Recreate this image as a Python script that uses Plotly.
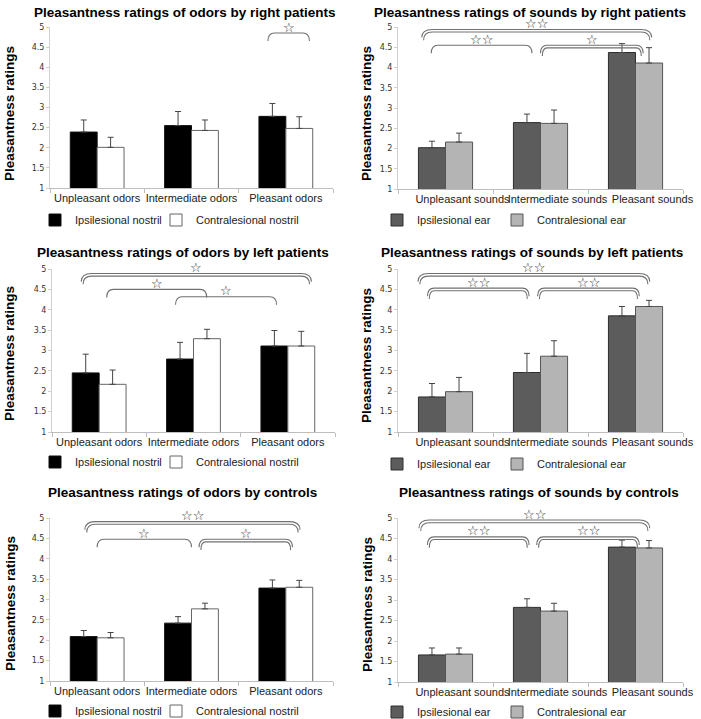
import plotly.graph_objects as go

W, H = 701, 719

# ---------------- data ----------------
odor_categories = ["Unpleasant odors", "Intermediate odors", "Pleasant odors"]
sound_categories = ["Unpleasant sounds", "Intermediate sounds", "Pleasant sounds"]
y_tick_values = [1, 1.5, 2, 2.5, 3, 3.5, 4, 4.5, 5]
y_tick_labels = ["1", "1.5", "2", "2.5", "3", "3.5", "4", "4.5", "5"]

odor_series_names = ["Ipsilesional nostril", "Contralesional nostril"]
sound_series_names = ["Ipsilesional ear", "Contralesional ear"]

odor_right_ipsi = [2.39, 2.55, 2.78]
odor_right_ipsi_err = [0.30, 0.35, 0.32]
odor_right_contra = [2.01, 2.43, 2.48]
odor_right_contra_err = [0.25, 0.26, 0.29]

sound_right_ipsi = [2.02, 2.64, 4.37]
sound_right_ipsi_err = [0.16, 0.21, 0.22]
sound_right_contra = [2.16, 2.62, 4.11]
sound_right_contra_err = [0.22, 0.33, 0.38]

odor_left_ipsi = [2.45, 2.79, 3.11]
odor_left_ipsi_err = [0.46, 0.41, 0.38]
odor_left_contra = [2.17, 3.29, 3.11]
odor_left_contra_err = [0.35, 0.23, 0.36]

sound_left_ipsi = [1.86, 2.46, 3.85]
sound_left_ipsi_err = [0.33, 0.47, 0.23]
sound_left_contra = [1.99, 2.86, 4.08]
sound_left_contra_err = [0.35, 0.38, 0.15]

odor_ctrl_ipsi = [2.09, 2.42, 3.28]
odor_ctrl_ipsi_err = [0.15, 0.16, 0.20]
odor_ctrl_contra = [2.06, 2.77, 3.30]
odor_ctrl_contra_err = [0.13, 0.14, 0.17]

sound_ctrl_ipsi = [1.66, 2.82, 4.29]
sound_ctrl_ipsi_err = [0.17, 0.21, 0.17]
sound_ctrl_contra = [1.68, 2.73, 4.27]
sound_ctrl_contra_err = [0.15, 0.19, 0.18]

# significance brackets: (from category pos, to category pos, level, stars, double line)
sig_odor_right = [(1.81, 2.25, 4.85, "☆", False)]
sig_sound_right = [(-0.25, 2.17, 4.94, "☆☆", True),
                   (-0.15, 0.91, 4.55, "☆☆", False),
                   (1.00, 2.08, 4.55, "☆", True)]
sig_odor_left = [(-0.19, 2.25, 4.89, "☆", True),
                 (0.08, 1.14, 4.50, "☆", False),
                 (0.81, 1.88, 4.32, "☆", False)]
sig_sound_left = [(-0.29, 2.15, 4.89, "☆☆", True),
                  (-0.19, 0.88, 4.53, "☆☆", True),
                  (0.97, 2.04, 4.53, "☆☆", True)]
sig_odor_ctrl = [(-0.13, 2.15, 4.91, "☆☆", True),
                 (0.00, 1.00, 4.48, "☆", False),
                 (1.08, 2.07, 4.48, "☆", True)]
sig_sound_ctrl = [(-0.28, 2.15, 4.95, "☆☆", True),
                  (-0.19, 0.88, 4.54, "☆☆", True),
                  (0.96, 2.04, 4.54, "☆☆", True)]

# ---------------- styling / layout ----------------
FONT = "Liberation Sans, Arial, sans-serif"
odor_style = dict(colors=["#000000", "#ffffff"], lines=["#111111", "#666666"])
sound_style = dict(colors=["#5c5c5c", "#b4b4b4"], lines=["#2e2e2e", "#555555"])

panels = [
    dict(title="Pleasantness ratings of odors by right patients", cats=odor_categories,
         names=odor_series_names, style=odor_style,
         a=odor_right_ipsi, ae=odor_right_ipsi_err, b=odor_right_contra, be=odor_right_contra_err,
         sig=sig_odor_right, box=(50, 333, 27, 188), title_c=(185, 12), ytitle=(10, 114),
         legend=((59, 180), 220), shift=0),
    dict(title="Pleasantness ratings of sounds by right patients", cats=sound_categories,
         names=sound_series_names, style=sound_style,
         a=sound_right_ipsi, ae=sound_right_ipsi_err, b=sound_right_contra, be=sound_right_contra_err,
         sig=sig_sound_right, box=(398, 683, 27, 189), title_c=(530, 12), ytitle=(367, 114),
         legend=((401, 521), 220), shift=17),
    dict(title="Pleasantness ratings of odors by left patients", cats=odor_categories,
         names=odor_series_names, style=odor_style,
         a=odor_left_ipsi, ae=odor_left_ipsi_err, b=odor_left_contra, be=odor_left_contra_err,
         sig=sig_odor_left, box=(52, 335, 269, 432), title_c=(183, 253), ytitle=(10, 354),
         legend=((59, 180), 462), shift=0),
    dict(title="Pleasantness ratings of sounds by left patients", cats=sound_categories,
         names=sound_series_names, style=sound_style,
         a=sound_left_ipsi, ae=sound_left_ipsi_err, b=sound_left_contra, be=sound_left_contra_err,
         sig=sig_sound_left, box=(398, 683, 269, 432), title_c=(532, 253), ytitle=(367, 356),
         legend=((401, 521), 464), shift=17),
    dict(title="Pleasantness ratings of odors by controls", cats=odor_categories,
         names=odor_series_names, style=odor_style,
         a=odor_ctrl_ipsi, ae=odor_ctrl_ipsi_err, b=odor_ctrl_contra, be=odor_ctrl_contra_err,
         sig=sig_odor_ctrl, box=(50, 333, 518, 681), title_c=(182, 492), ytitle=(10, 604),
         legend=((59, 180), 711), shift=0),
    dict(title="Pleasantness ratings of sounds by controls", cats=sound_categories,
         names=sound_series_names, style=sound_style,
         a=sound_ctrl_ipsi, ae=sound_ctrl_ipsi_err, b=sound_ctrl_contra, be=sound_ctrl_contra_err,
         sig=sig_sound_ctrl, box=(398, 683, 518, 682), title_c=(539, 492), ytitle=(367, 605),
         legend=((401, 521), 712), shift=17),
]

fig = go.Figure()
layout = dict(
    width=W, height=H, margin=dict(l=0, r=0, t=0, b=0, autoexpand=False),
    paper_bgcolor="white", plot_bgcolor="white",
    barmode="group", bargap=0.43, bargroupgap=0.0,
    font=dict(family=FONT, size=11, color="#222"),
    showlegend=True,
)
annotations = []
shapes = []
legend_count = 0

for i, p in enumerate(panels):
    n = i + 1
    xa = "x" if n == 1 else f"x{n}"
    ya = "y" if n == 1 else f"y{n}"
    x0, x1, yt, yb = p["box"]
    positions = list(range(len(p["cats"])))
    for k, (vals, errs) in enumerate([(p["a"], p["ae"]), (p["b"], p["be"])]):
        legend_count += 1
        lg = "legend" if legend_count == 1 else f"legend{legend_count}"
        fig.add_trace(go.Bar(
            x=positions, y=vals, name=p["names"][k],
            xaxis=xa, yaxis=ya, legend=lg,
            marker=dict(color=p["style"]["colors"][k],
                        line=dict(color=p["style"]["lines"][k], width=1)),
            error_y=dict(type="data", array=errs, arrayminus=[0] * len(errs), symmetric=False,
                         color="#444", thickness=1, width=3),
            cliponaxis=False,
        ))
        sym_x = p["legend"][0][k]
        ly = p["legend"][1]
        layout[lg] = dict(
            orientation="h", x=(sym_x - 24) / W, xanchor="left",
            y=1 - ly / H, yanchor="middle",
            font=dict(family=FONT, size=11, color="#222"),
            bgcolor="rgba(0,0,0,0)", borderwidth=0,
            itemclick=False, itemdoubleclick=False,
        )
    layout["xaxis" if n == 1 else f"xaxis{n}"] = dict(
        domain=[x0 / W, x1 / W], anchor=ya, range=[-0.5, 2.5],
        tickmode="array", tickvals=positions, ticktext=p["cats"], ticks="",
        tickangle=0,
        showline=True, linecolor="#bdbdbd", linewidth=1, showgrid=False, zeroline=False,
        tickfont=dict(family=FONT, size=11, color="#222"),
        ticklabelshift=p["shift"],
        minor=dict(tickmode="array", tickvals=[-0.5, 0.5, 1.5, 2.5], ticks="outside",
                   ticklen=4, tickcolor="#bdbdbd", showgrid=False),
        fixedrange=True,
    )
    layout["yaxis" if n == 1 else f"yaxis{n}"] = dict(
        domain=[1 - yb / H, 1 - yt / H], anchor=xa, range=[1, 5],
        tickmode="array", tickvals=y_tick_values, ticktext=y_tick_labels,
        ticks="outside", ticklen=3, tickcolor="#cfcfcf",
        showline=True, linecolor="#d0d0d0", linewidth=1, showgrid=False, zeroline=False,
        tickfont=dict(family="DejaVu Sans, sans-serif", size=8, color="#333"),
        fixedrange=True,
    )
    # title
    annotations.append(dict(
        text=f"<b>{p['title']}</b>", xref="paper", yref="paper",
        x=p["title_c"][0] / W, y=1 - p["title_c"][1] / H, xanchor="center", yanchor="middle",
        showarrow=False, font=dict(family=FONT, size=13.5, color="#000"),
    ))
    # y axis title
    annotations.append(dict(
        text="<b>Pleasantness ratings</b>", xref="paper", yref="paper", textangle=-90,
        x=p["ytitle"][0] / W, y=1 - p["ytitle"][1] / H, xanchor="center", yanchor="middle",
        showarrow=False, font=dict(family=FONT, size=13.5, color="#000"),
    ))
    # significance brackets
    for (s0, s1, lvl, stars, double) in p["sig"]:
        wide = (s1 - s0) > 1.5
        rx = 0.11 if wide else 0.07
        drop = 0.20
        offsets = [0.0, 0.065] if double else [0.0]
        for off in offsets:
            top = lvl - off
            path = (f"M {s0 + off * 0.3},{top - drop} Q {s0 + off * 0.3},{top} {s0 + rx},{top} "
                    f"L {s1 - rx},{top} Q {s1 - off * 0.3},{top} {s1 - off * 0.3},{top - drop}")
            shapes.append(dict(type="path", path=path, xref=xa, yref=ya,
                               line=dict(color="#707070", width=1.1), layer="above"))
        annotations.append(dict(
            text=stars, xref=xa, yref=ya, x=(s0 + s1) / 2, y=lvl,
            xanchor="center", yanchor="middle", yshift=6, showarrow=False,
            font=dict(family="DejaVu Sans, sans-serif", size=13, color="#2a2a2a"),
        ))

layout["annotations"] = annotations
layout["shapes"] = shapes
fig.update_layout(**layout)
fig.write_html("out.html", config={"displayModeBar": False},
               post_script="document.body.style.margin='0';document.body.style.padding='0';")
